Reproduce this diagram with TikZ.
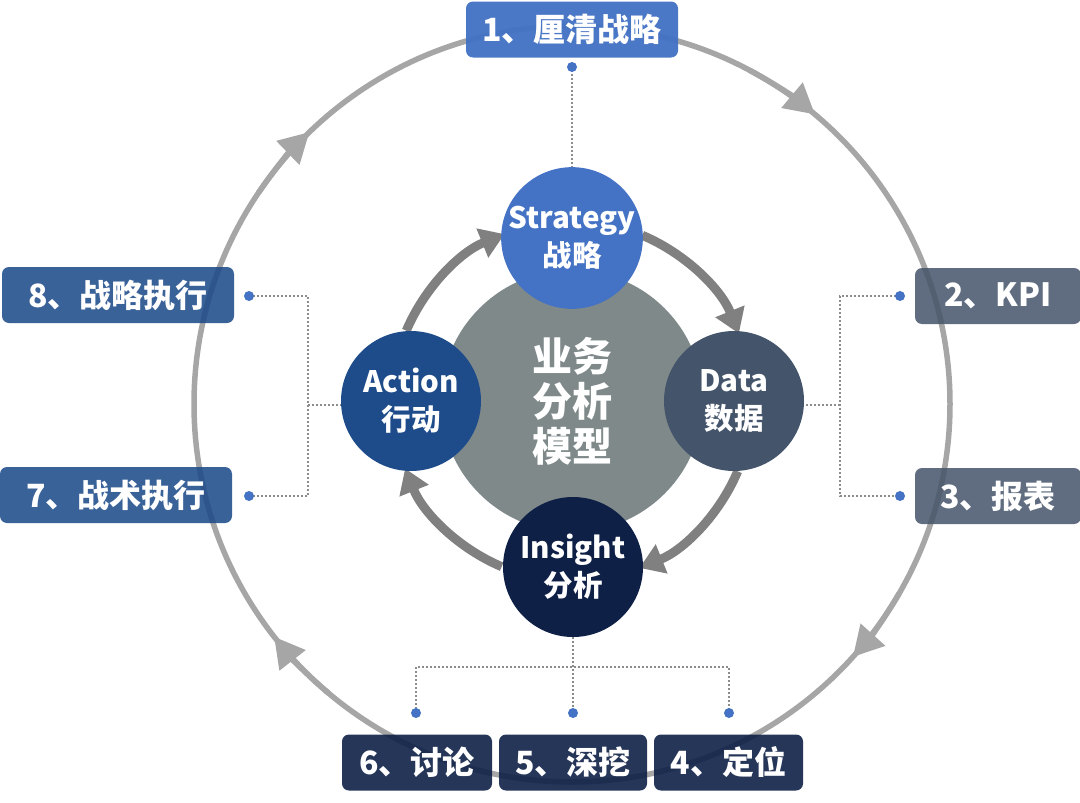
\documentclass[tikz,border=0pt]{standalone}
\usepackage{fontspec}
\setmainfont{Noto Sans CJK SC}
\usetikzlibrary{arrows.meta}
\definecolor{cStrat}{HTML}{4472C4}
\definecolor{cData}{HTML}{44546A}
\definecolor{cInsight}{HTML}{0E2046}
\definecolor{cAction}{HTML}{1E4C8A}
\definecolor{cCore}{HTML}{7F898A}
\definecolor{cRing}{HTML}{A6A6A6}
\definecolor{cInner}{HTML}{808080}
\definecolor{cDot}{HTML}{4472C4}
\definecolor{cDotLine}{HTML}{8C8C8C}
\tikzset{
  outerring/.style={draw=cRing, line width=5.5pt},
  outerarrow/.style={draw=cRing, line width=5.5pt, -{Triangle[length=30pt,width=32pt]}},
  innerarrow/.style={draw=cInner, line width=9pt, -{Triangle[length=24pt,width=30pt]}},
  dotline/.style={draw=cDotLine, line width=2pt, dash pattern=on 2pt off 2pt},
  enddot/.style={fill=cDot},
  labelbox/.style={rectangle, rounded corners=7pt, minimum height=56pt, inner sep=0pt,
    text=white, fill opacity=0.88, text opacity=1, font=\bfseries\fontsize{32}{38}\selectfont},
  stagecircle/.style={circle, minimum size=140pt, inner sep=0pt, text=white, align=center,
    font=\bfseries\fontsize{29.5}{38}\selectfont},
}
\begin{document}
\begin{tikzpicture}[x=1pt,y=-1pt]
\useasboundingbox (0,0) rectangle (1080,803);
% outer ring
\coordinate (O) at (572,404);
\draw[outerring] (O) circle[radius=378];
\draw[outerarrow] ([shift={(-62:378)}]O) arc[start angle=-62, end angle=-50, radius=378];
\draw[outerarrow] ([shift={(30:378)}]O) arc[start angle=30, end angle=42, radius=378];
\draw[outerarrow] ([shift={(130:378)}]O) arc[start angle=130, end angle=142, radius=378];
\draw[outerarrow] ([shift={(214:378)}]O) arc[start angle=214, end angle=226, radius=378];

% connector junctions and dots
\coordinate (top) at (572,67);
\coordinate (rj) at (840,405);
\coordinate (d2) at (900,296);
\coordinate (d3) at (900,496);
\coordinate (lj) at (308,405);
\coordinate (d8) at (249,296);
\coordinate (d7) at (249,496);
\coordinate (bj) at (573,667);
\coordinate (d6) at (416,713);
\coordinate (d5) at (573,713);
\coordinate (d4) at (729,713);

\coordinate (C) at (572,401);
\node[stagecircle] (S) at (572,238) {};
\node[stagecircle] (D) at (734,401) {};
\node[stagecircle] (I) at (573,567) {};
\node[stagecircle] (A) at (411,401) {};

\draw[dotline] (S.north) -- (top);
\draw[dotline] (rj) -- (rj -| D.east);
\draw[dotline] (d2) -| (rj) |- (d3);
\draw[dotline] (lj) -- (lj -| A.west);
\draw[dotline] (d8) -| (lj) |- (d7);
\draw[dotline] (I.south) -- (d5);
\draw[dotline] (d6) |- (bj) -| (d4);
\foreach \p in {top,d2,d3,d8,d7,d6,d5,d4} \fill[enddot] (\p) circle[radius=5];

% label boxes
\node[labelbox, fill=cStrat, fill opacity=0.96, minimum width=212pt] (b1) at (572,29.5) {1、厘清战略};
\node[labelbox, fill=cData, fill opacity=0.85, minimum width=166pt] (b2) at (998,296) {2、KPI};
\node[labelbox, fill=cData, fill opacity=0.85, minimum width=166pt] (b3) at (998,496) {3、报表};
\node[labelbox, fill=cAction, fill opacity=0.88, minimum width=232pt] (b8) at (118,295) {8、战略执行};
\node[labelbox, fill=cAction, fill opacity=0.88, minimum width=232pt] (b7) at (116,495) {7、战术执行};
\node[labelbox, fill=cInsight, fill opacity=0.9, minimum width=150pt] (b6) at (417,762.5) {6、讨论};
\node[labelbox, fill=cInsight, fill opacity=0.9, minimum width=148pt] (b5) at (573,762.5) {5、深挖};
\node[labelbox, fill=cInsight, fill opacity=0.9, minimum width=149pt] (b4) at (728.5,762.5) {4、定位};

% core
\node[circle, fill=cCore, minimum size=262pt, inner sep=0pt, text=white, align=center,
  font=\bfseries\fontsize{40}{45}\selectfont] (core) at (C) {业务\\分析\\模型};

% inner cycle arrows
\draw[innerarrow] ([shift={(-67:180)}]C) arc[start angle=-67, end angle=-22, radius=180];
\draw[innerarrow] ([shift={(23:180)}]C) arc[start angle=23, end angle=68, radius=180];
\draw[innerarrow] ([shift={(113:180)}]C) arc[start angle=113, end angle=158, radius=180];
\draw[innerarrow] ([shift={(203:180)}]C) arc[start angle=203, end angle=248, radius=180];

% stage circles
\node[stagecircle, fill=cStrat] at (S) {Strategy\\战略};
\node[stagecircle, fill=cData] at (D) {Data\\数据};
\node[stagecircle, fill=cInsight] at (I) {Insight\\分析};
\node[stagecircle, fill=cAction] at (A) {Action\\行动};
\end{tikzpicture}
\end{document}
